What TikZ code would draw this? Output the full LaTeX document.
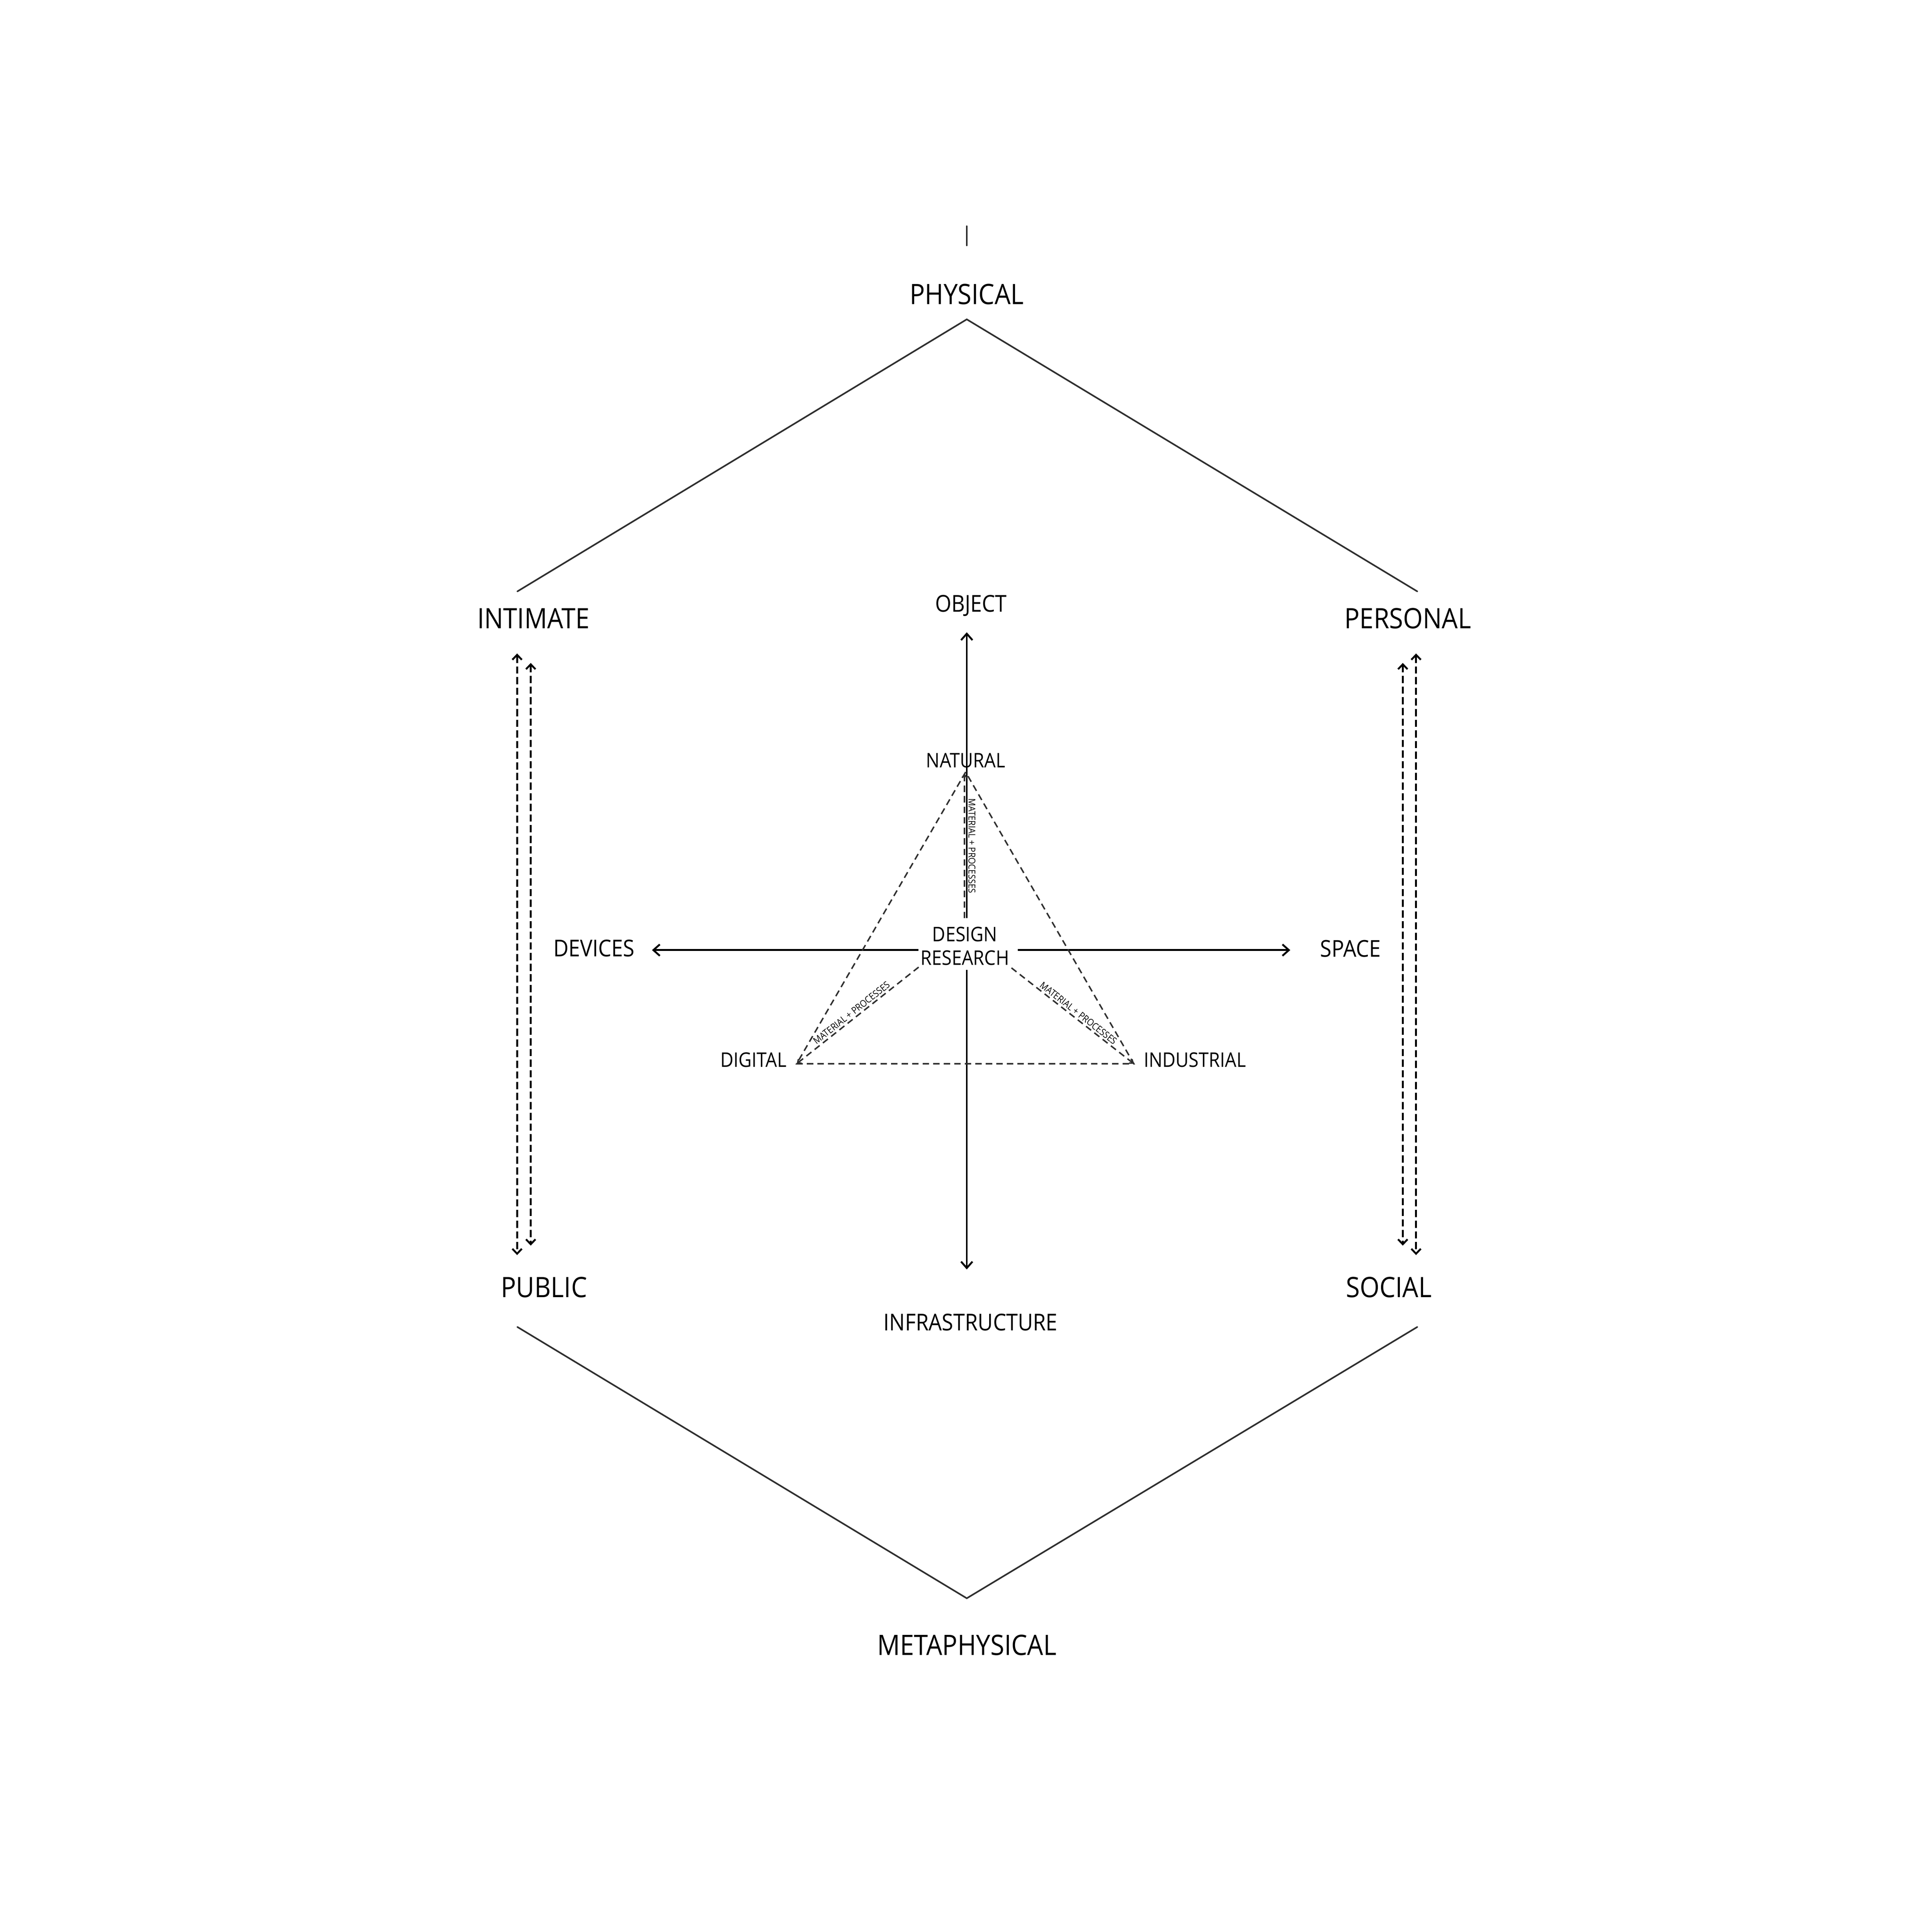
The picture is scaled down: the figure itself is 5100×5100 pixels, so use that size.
\documentclass[tikz,border=0pt]{standalone}
\usepackage{fontspec}
\setmainfont[FakeStretch=0.9]{Open Sans}
\usetikzlibrary{arrows.meta}
\definecolor{hexgray}{HTML}{2E2E2E}
\tikzset{
  hexline/.style={draw=hexgray, line width=1.2pt, line cap=round},
  tickline/.style={draw=hexgray, line width=1.1pt, line cap=round},
  axisarrow/.style={draw=black, line width=1.4pt, -{Straight Barb[length=0.17cm,width=0.3cm]}},
  sidearrow/.style={draw=black, line width=1.4pt, dash pattern=on 5.4pt off 2.6pt,
    {Straight Barb[length=0.13cm,width=0.25cm]}-{Straight Barb[length=0.13cm,width=0.25cm]}},
  tridash/.style={draw=hexgray, line width=1.1pt, dash pattern=on 4.8pt off 3.1pt},
  spoke/.style={draw=hexgray, line width=1.1pt, dash pattern=on 4.8pt off 3.1pt,
    -{Straight Barb[length=0.08cm,width=0.13cm]}},
  biglabel/.style={font=\fontsize{21.1}{25}\selectfont, inner sep=0pt, anchor=base},
  midlabel/.style={font=\fontsize{17.4}{21}\selectfont, inner sep=0pt, anchor=base},
  smlabel/.style={font=\fontsize{15.1}{17.6}\selectfont, inner sep=0pt, anchor=base},
  tinylabel/.style={font=\fontsize{7.1}{8}\selectfont, inner sep=0pt},
}
\begin{document}
\begin{tikzpicture}[x=0.01cm, y=-0.01cm]
\useasboundingbox (0,0) rectangle (5100,5100);

% hexagon corner points
\coordinate (hT)  at (2552,843);
\coordinate (hUL) at (1366,1561);
\coordinate (hUR) at (3741,1561);
\coordinate (hLL) at (1366,3503);
\coordinate (hLR) at (3741,3503);
\coordinate (hB)  at (2552,4219);
\coordinate (tkA) at (2552,597);
\coordinate (tkB) at (2552,648);

\draw[tickline] (tkA) -- (tkB);
\draw[hexline] (hUL) -- (hT) -- (hUR);
\draw[hexline] (hLL) -- (hB) -- (hLR);

% outer labels
\node[biglabel] (physical) at (2552,803) {PHYSICAL};
\node[biglabel] (intimate) at (1408,1659) {INTIMATE};
\node[biglabel] (personal) at (3716,1659) {PERSONAL};
\node[biglabel] (public) at (1436,3425) {PUBLIC};
\node[biglabel] (social) at (3666,3425) {SOCIAL};
\node[biglabel] (meta) at (2552,4369) {METAPHYSICAL};

% side dashed double arrows
\coordinate (lOa) at (1365,1725); \coordinate (lOb) at (1365,3313);
\coordinate (lIa) at (1401,1750); \coordinate (lIb) at (1401,3288);
\coordinate (rIa) at (3703,1750); \coordinate (rIb) at (3703,3288);
\coordinate (rOa) at (3738,1725); \coordinate (rOb) at (3738,3313);
\draw[sidearrow] (lOa) -- (lOb);
\draw[sidearrow] (lIa) -- (lIb);
\draw[sidearrow] (rIa) -- (rIb);
\draw[sidearrow] (rOa) -- (rOb);

% central axes
\coordinate (vU) at (2552,2424); \coordinate (oT) at (2552,1669);
\coordinate (vD) at (2552,2560); \coordinate (iT) at (2552,3351);
\coordinate (hLs) at (2424,2508); \coordinate (dT) at (1721,2508);
\coordinate (hRs) at (2687,2508); \coordinate (sT) at (3406,2508);
\draw[axisarrow] (vU) -- (oT);
\draw[axisarrow] (vD) -- (iT);
\draw[axisarrow] (hLs) -- (dT);
\draw[axisarrow] (hRs) -- (sT);

\node[midlabel] (object) at (2563,1615) {OBJECT};
\node[midlabel] (devices) at (1568,2525) {DEVICES};
\node[midlabel] (space) at (3565,2526) {SPACE};
\node[midlabel] (infra) at (2562,3512) {INFRASTRUCTURE};

% triangle
\coordinate (nV) at (2549,2038);
\coordinate (gV) at (2103,2808);
\coordinate (iV) at (2993,2808);
\draw[tridash] (nV) -- (gV) -- (iV) -- cycle;

% spokes
\coordinate (sN) at (2546,2424); \coordinate (sNt) at (2546,2042);
\coordinate (sL) at (2425,2553);
\coordinate (sR) at (2670,2555);
\draw[spoke] (sN) -- node[tinylabel, rotate=-90, anchor=south, outer sep=3pt] {MATERIAL + PROCESSES} (sNt);
\draw[spoke] (sL) -- node[tinylabel, sloped, above=1.2pt, pos=0.52] {MATERIAL + PROCESSES} (gV);
\draw[spoke] (sR) -- node[tinylabel, sloped, above=1.2pt, pos=0.52] {MATERIAL + PROCESSES} (iV);

\node[smlabel] (natural) at (2549,2026) {NATURAL};
\node[smlabel] (digital) at (1989,2817) {DIGITAL};
\node[smlabel] (industrial) at (3154,2817) {INDUSTRIAL};
\node[smlabel] (design) at (2547,2485) {DESIGN};
\node[smlabel] (research) at (2547,2547) {RESEARCH};
\end{tikzpicture}
\end{document}
